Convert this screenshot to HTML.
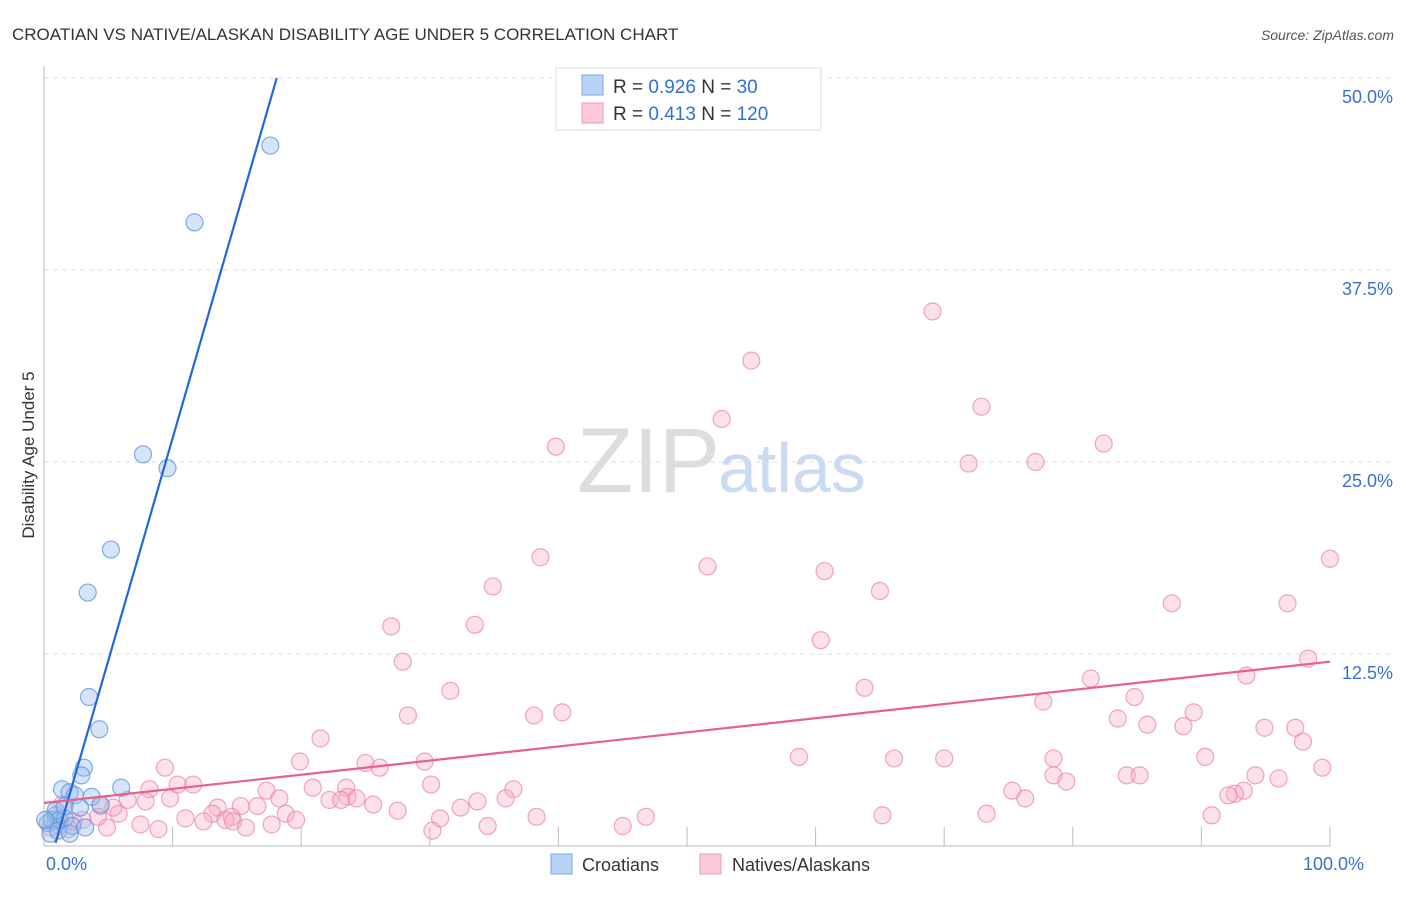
<!DOCTYPE html>
<html><head><meta charset="utf-8"><style>
body{margin:0;background:#fff;font-family:"Liberation Sans",sans-serif}
svg text{font-family:"Liberation Sans",sans-serif}
</style></head><body>
<svg id="chart" width="1406" height="892">
<text x="12" y="40" font-size="17" fill="#333">CROATIAN VS NATIVE/ALASKAN DISABILITY AGE UNDER 5 CORRELATION CHART</text>
<text x="1394" y="40" font-size="14" fill="#555" font-style="italic" text-anchor="end">Source: ZipAtlas.com</text>
<g id="grid"></g>
<text x="720" y="492" font-size="92" fill="#ddd" text-anchor="end" font-family="Liberation Serif">ZIP</text>
<text x="718" y="492" font-size="70" fill="#c9daf2">atlas</text>
<g id="axes"></g>
<text transform="translate(34,455) rotate(-90)" font-size="17" fill="#333" text-anchor="middle">Disability Age Under 5</text>
<g id="pts"></g>
<g id="lines"></g>
<g>
<rect x="556" y="68" width="265" height="62" fill="#fff" stroke="#ddd"/>
<rect x="582" y="75" width="21" height="20" fill="#b8d3f5" stroke="#7aa7e6"/>
<rect x="582" y="103" width="21" height="20" fill="#fbc9d8" stroke="#ee9ab4"/>
<text x="613" y="93" font-size="19" fill="#333">R = <tspan fill="#2f6fd6">0.926</tspan>   N = <tspan fill="#2f6fd6">  30</tspan></text>
<text x="613" y="120" font-size="19" fill="#333">R = <tspan fill="#2f6fd6"> 0.413</tspan>   N = <tspan fill="#2f6fd6">120</tspan></text>
</g>
<g>
<rect x="551" y="854" width="21" height="20" fill="#b8d3f5" stroke="#7aa7e6"/>
<text x="582" y="871" font-size="18" fill="#333">Croatians</text>
<rect x="700" y="854" width="21" height="20" fill="#fbc9d8" stroke="#ee9ab4"/>
<text x="732" y="871" font-size="18" fill="#333">Natives/Alaskans</text>
</g>
</svg>
<script>
const yTicks=[12.5,25,37.5,50];
const yTickLabels=["12.5%","25.0%","37.5%","50.0%"];
const xTickLabels=["0.0%","100.0%"];
const blueX=[17.6,11.7,7.7,9.6,5.2,3.4,3.5,4.3,3.1,2.9,6.0,1.4,2.0,3.7,2.4,4.4,0.9,0.3,0.6,1.2,1.6,2.2,3.2,0.5,1.1,2.0,0.9,1.6,2.8,0.1];
const blueY=[45.6,40.6,25.5,24.6,19.3,16.5,9.7,7.6,5.1,4.6,3.8,3.7,3.5,3.2,3.3,2.7,2.0,1.5,1.7,1.7,1.8,1.3,1.2,0.8,1.0,0.8,2.3,2.6,2.5,1.7];
const pinkX=[69.1,55.0,72.9,52.7,82.4,39.8,71.9,77.1,38.6,100,51.6,60.7,34.9,65.0,87.7,96.7,27.0,33.5,60.4,27.9,98.3,93.5,81.4,31.6,63.8,84.8,77.7,28.3,38.1,40.3,89.4,83.5,85.8,88.6,94.9,97.3,97.9,21.5,58.7,66.1,70.0,78.5,90.3,19.9,25.0,29.6,26.1,9.4,99.4,78.5,79.5,84.2,85.2,94.2,96.0,30.1,10.4,11.6,8.2,36.5,20.9,23.5,17.3,75.3,93.3,92.6,92.1,18.3,76.3,23.6,9.8,7.9,6.5,22.2,23.1,24.3,35.9,33.7,25.6,15.3,32.4,13.5,16.6,5.4,4.4,1.4,13.1,18.8,5.8,27.5,14.6,30.8,38.3,46.8,90.8,73.3,65.2,11.0,14.1,19.6,14.7,12.4,7.5,4.2,3.0,2.3,15.7,17.7,4.9,8.9,34.5,45.0,30.2,1.2,0.5,0.9,1.9];
const pinkY=[34.8,31.6,28.6,27.8,26.2,26.0,24.9,25.0,18.8,18.7,18.2,17.9,16.9,16.6,15.8,15.8,14.3,14.4,13.4,12.0,12.2,11.1,10.9,10.1,10.3,9.7,9.4,8.5,8.5,8.7,8.7,8.3,7.9,7.8,7.7,7.7,6.8,7.0,5.8,5.7,5.7,5.7,5.8,5.5,5.4,5.5,5.1,5.1,5.1,4.6,4.2,4.6,4.6,4.6,4.4,4.0,4.0,4.0,3.7,3.7,3.8,3.8,3.6,3.6,3.6,3.4,3.3,3.1,3.1,3.2,3.1,2.9,3.0,3.0,3.0,3.1,3.1,2.9,2.7,2.6,2.5,2.5,2.6,2.5,2.6,2.7,2.1,2.1,2.1,2.3,1.9,1.8,1.9,1.9,2.0,2.1,2.0,1.8,1.7,1.7,1.6,1.6,1.4,1.9,1.7,1.6,1.2,1.4,1.2,1.1,1.3,1.3,1.0,1.3,1.2,1.6,1.1];
const blueTrendX=[0.9,18.1], blueTrendY=[0.2,50];
const pinkTrendX=[0,100], pinkTrendY=[2.8,12.0];
const NS="http://www.w3.org/2000/svg";
const X0=44,X1=1330,Y0=846,Y50=78;
const sx=v=>X0+(X1-X0)*v/100;
const sy=v=>Y0-(Y0-Y50)*v/50;
function mk(t,a,p){const e=document.createElementNS(NS,t);for(const k in a)e.setAttribute(k,a[k]);p.appendChild(e);return e;}
const grid=document.getElementById('grid'),axes=document.getElementById('axes'),pts=document.getElementById('pts'),lines=document.getElementById('lines');
yTicks.forEach((v,i)=>{
 const l=mk('line',{x1:X0,x2:1394,y1:sy(v),y2:sy(v),stroke:'#ddd','stroke-dasharray':'5,4'},grid);
 
 
 const t=mk('text',{x:1393,y:sy(v)+25,'font-size':18,fill:'#3a70d0','text-anchor':'end'},axes);
 t.textContent=yTickLabels[i];
 
 
});
mk('line',{x1:X0,x2:X0,y1:66,y2:Y0,stroke:'#bbb'},axes);
mk('line',{x1:X0,x2:X1,y1:Y0,y2:Y0,stroke:'#bbb'},axes);
for(let i=1;i<=10;i++){const x=sx(i*10);mk('line',{x1:x,x2:x,y1:Y0-19,y2:Y0,stroke:'#bbb'},axes);}
[[0,'start'],[100,'end']].forEach((d,i)=>{
 const t=mk('text',{x:sx(d[0])+(i?34:2),y:870,'font-size':18,fill:'#3a70d0','text-anchor':d[1]},axes);
 t.textContent=xTickLabels[i];
 
 
});
pinkX.forEach((x,i)=>{
 const c=mk('circle',{cx:sx(x),cy:sy(pinkY[i]),r:8.5,fill:'rgba(246,170,196,0.35)',stroke:'rgba(232,130,164,0.7)','stroke-width':1.2},pts);
 
 
});
blueX.forEach((x,i)=>{
 const c=mk('circle',{cx:sx(x),cy:sy(blueY[i]),r:8.5,fill:'rgba(150,190,240,0.4)',stroke:'rgba(90,145,220,0.75)','stroke-width':1.2},pts);
 
 
});
const bl=mk('line',{x1:sx(blueTrendX[0]),y1:sy(blueTrendY[0]),x2:sx(blueTrendX[1]),y2:sy(blueTrendY[1]),stroke:'#2268d8','stroke-width':2.2},lines);


const pl=mk('line',{x1:sx(pinkTrendX[0]),y1:sy(pinkTrendY[0]),x2:sx(pinkTrendX[1]),y2:sy(pinkTrendY[1]),stroke:'#e8608c','stroke-width':2.2},lines);


</script>
</body></html>
